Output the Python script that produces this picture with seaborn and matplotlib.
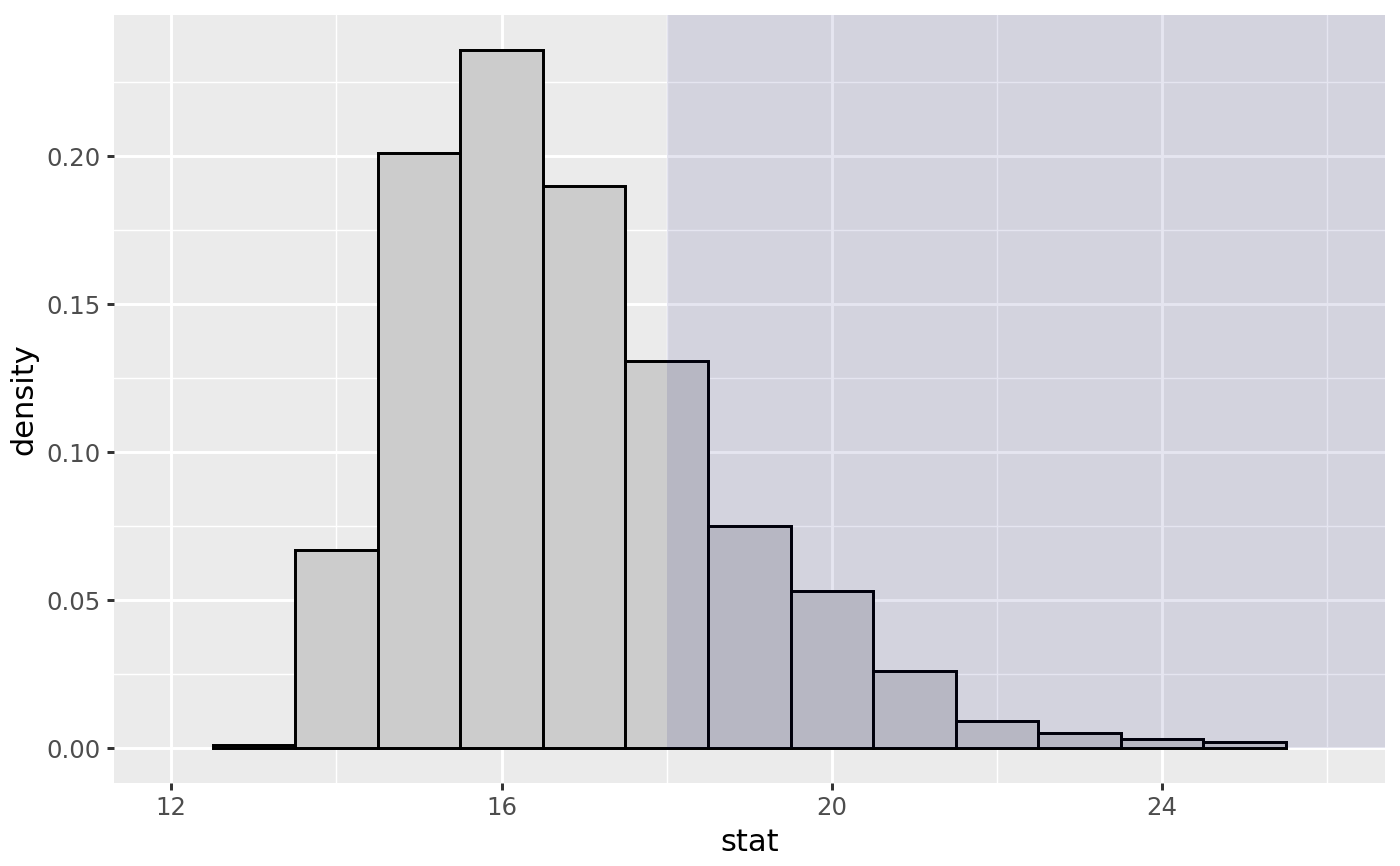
import matplotlib
matplotlib.use("Agg")
import matplotlib.pyplot as plt
import matplotlib.ticker as mticker
import numpy as np
import seaborn as sns

# histogram of the null distribution (bin centres, width 1) and observed stat
bin_centers = [13, 14, 15, 16, 17, 18, 19, 20, 21, 22, 23, 24, 25]
density = [0.001, 0.067, 0.201, 0.236, 0.190, 0.131, 0.075,
           0.053, 0.026, 0.009, 0.005, 0.003, 0.002]
bin_edges = [12.5, 13.5, 14.5, 15.5, 16.5, 17.5, 18.5, 19.5,
             20.5, 21.5, 22.5, 23.5, 24.5, 25.5]
obs_stat = 18
x_major = [12, 16, 20, 24]
x_minor = [14, 18, 22, 26]

sns.set_theme(style="darkgrid", rc={
    "axes.facecolor": "#ebebeb",
    "grid.color": "white",
    "axes.edgecolor": "none",
    "xtick.color": "#333333",
    "ytick.color": "#333333",
    "xtick.labelcolor": "#4d4d4d",
    "ytick.labelcolor": "#4d4d4d",
})
plt.rcParams["font.family"] = ["DejaVu Sans"]

fig, ax = plt.subplots(figsize=(7, 4.33), dpi=200)
fig.subplots_adjust(left=0.0814, right=0.9893, top=0.9827, bottom=0.0958)

sns.histplot(x=bin_centers, weights=density, bins=bin_edges, stat="count",
             color="#cccccc", alpha=1, edgecolor="black", linewidth=1.07,
             ax=ax, zorder=2)

xlim = (11.306, 26.70)
ylim = (-0.0118, 0.2478)
ax.set_xlim(*xlim)
ax.set_ylim(*ylim)

# shade the p-value region, on top of the bars
ax.axvspan(obs_stat, xlim[1], ymin=(0 - ylim[0]) / (ylim[1] - ylim[0]),
           ymax=1, color="#000074", alpha=0.1, lw=0, zorder=3)

ax.set_xticks(x_major)
ax.set_xticks(x_minor, minor=True)
ax.set_yticks([0, 0.05, 0.10, 0.15, 0.20])
ax.set_yticks([0.025, 0.075, 0.125, 0.175, 0.225], minor=True)
ax.yaxis.set_major_formatter(mticker.FormatStrFormatter("%.2f"))
ax.xaxis.set_major_formatter(mticker.FormatStrFormatter("%d"))

ax.grid(which="major", color="white", linewidth=1.07)
ax.grid(which="minor", color="white", linewidth=0.53)
ax.set_axisbelow(True)
for s in ax.spines.values():
    s.set_visible(False)

ax.tick_params(which="major", length=2.6, width=1.07, labelsize=8.8,
               pad=2.2, direction="out", bottom=True, left=True)
ax.tick_params(which="minor", length=0)

ax.set_xlabel("stat", fontsize=11, color="black", labelpad=2.75)
ax.set_ylabel("density", fontsize=11, color="black", labelpad=2.75)

fig.savefig("out.png", dpi=200, facecolor="white")
